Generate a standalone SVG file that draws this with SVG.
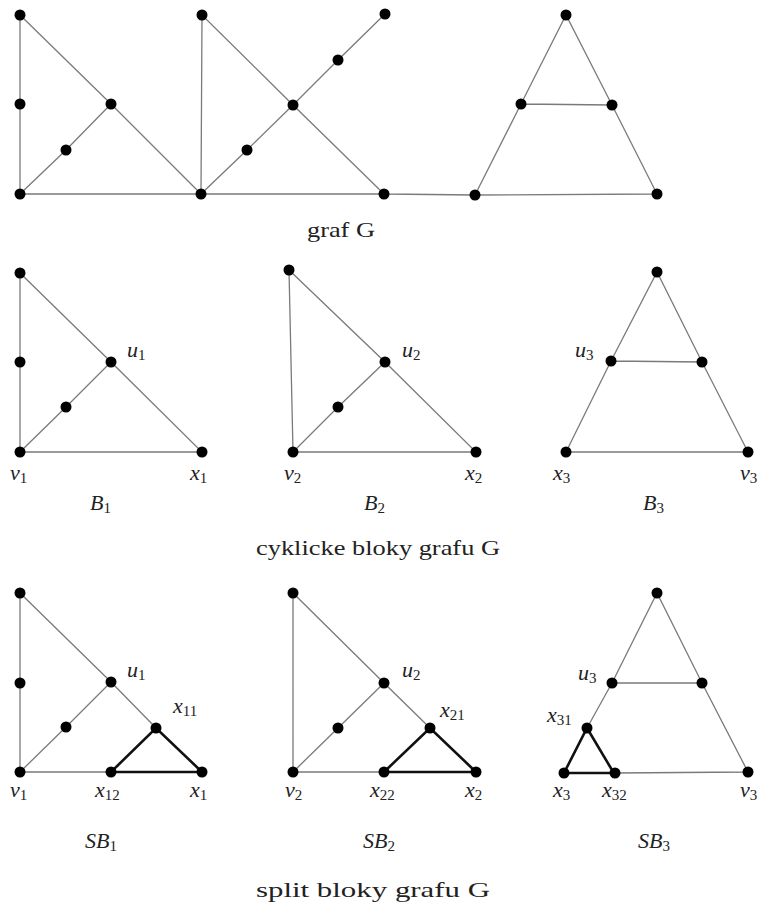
<svg xmlns="http://www.w3.org/2000/svg" width="759" height="907" viewBox="0 0 759 907">
<style>
.e{stroke:#7a7a7a;stroke-width:1.3;fill:none;stroke-linecap:round}
.t{stroke:#111;stroke-width:2.6;fill:none;stroke-linecap:round}
.n{fill:#000}
.m{font-family:"Liberation Serif","DejaVu Serif",serif;font-size:22px;font-style:italic;fill:#222}
.s{font-style:normal;font-size:15px}
.c{font-family:"Liberation Serif","DejaVu Serif",serif;font-size:22px;fill:#222}
</style>
<rect width="759" height="907" fill="#fff"/>
<g id="connectors">
<path class="e" d="M20,15 L20,104 L20,194 M20,15 L111,104 L201,194 M111,104 L66,150 L20,194 M20,194 L201,194 L384,194 L475,195 L657,194 M201,194 L202,15 L293,105 L384,194 M201,194 L247,150 L293,105 L338,60 L385,14 M475,195 L521,104 L566,15 L612,105 L657,194 M521,104 L612,105"/>
<path class="e" d="M20,273 L20,362 L20,452 L202,452 L111,362 L20,273 M111,362 L66,407 L20,452"/>
<path class="e" d="M289,270 L293,452 L476,452 L385,362 L289,270 M385,362 L338,407 L293,452"/>
<path class="e" d="M566,452 L611,361 L657,272 L702,362 L748,452 L566,452 M611,361 L702,362"/>
<path class="e" d="M20,593 L20,683 L20,772 L111,772 M20,593 L111,682 L156,728 M111,682 L66,727 L20,772"/>
<path class="t" d="M111,772 L156,728 L202,772 Z"/>
<path class="e" d="M293,593 L293,772 L384,772 M293,593 L384,683 L430,728 M384,683 L338,728 L293,772"/>
<path class="t" d="M384,772 L430,728 L476,772 Z"/>
<path class="e" d="M587,728 L612,683 L657,593 L702,683 L748,772 L615,773 M612,683 L702,683"/>
<path class="t" d="M564,773 L587,728 L612,770 M564,773 L615,773"/>
</g>
<g id="graf-G">
<circle class="n" cx="20" cy="15" r="5.5"/><circle class="n" cx="20" cy="104" r="5.5"/><circle class="n" cx="66" cy="150" r="5.5"/><circle class="n" cx="111" cy="104" r="5.5"/><circle class="n" cx="20" cy="194" r="5.5"/><circle class="n" cx="201" cy="194" r="5.5"/><circle class="n" cx="202" cy="15" r="5.5"/><circle class="n" cx="293" cy="105" r="5.5"/><circle class="n" cx="247" cy="150" r="5.5"/><circle class="n" cx="338" cy="60" r="5.5"/><circle class="n" cx="385" cy="14" r="5.5"/><circle class="n" cx="384" cy="194" r="5.5"/><circle class="n" cx="566" cy="15" r="5.5"/><circle class="n" cx="521" cy="104" r="5.5"/><circle class="n" cx="612" cy="105" r="5.5"/><circle class="n" cx="475" cy="195" r="5.5"/><circle class="n" cx="657" cy="194" r="5.5"/>
<text class="c" x="307" y="237" textLength="68" lengthAdjust="spacingAndGlyphs">graf G</text>
</g>
<g id="B1">
<circle class="n" cx="20" cy="273" r="5.5"/><circle class="n" cx="20" cy="362" r="5.5"/><circle class="n" cx="66" cy="407" r="5.5"/><circle class="n" cx="111" cy="362" r="5.5"/><circle class="n" cx="20" cy="452" r="5.5"/><circle class="n" cx="202" cy="452" r="5.5"/>
<text class="m" x="127" y="357">u<tspan class="s" dy="3">1</tspan></text>
<text class="m" x="10" y="480">v<tspan class="s" dy="3">1</tspan></text>
<text class="m" x="190" y="480">x<tspan class="s" dy="3">1</tspan></text>
<text class="m" x="90" y="510">B<tspan class="s" dy="3">1</tspan></text>
</g>
<g id="B2">
<circle class="n" cx="289" cy="270" r="5.5"/><circle class="n" cx="338" cy="407" r="5.5"/><circle class="n" cx="385" cy="362" r="5.5"/><circle class="n" cx="293" cy="452" r="5.5"/><circle class="n" cx="476" cy="452" r="5.5"/>
<text class="m" x="402" y="357">u<tspan class="s" dy="3">2</tspan></text>
<text class="m" x="284" y="480">v<tspan class="s" dy="3">2</tspan></text>
<text class="m" x="465" y="480">x<tspan class="s" dy="3">2</tspan></text>
<text class="m" x="364" y="510">B<tspan class="s" dy="3">2</tspan></text>
</g>
<g id="B3">
<circle class="n" cx="657" cy="272" r="5.5"/><circle class="n" cx="611" cy="361" r="5.5"/><circle class="n" cx="702" cy="362" r="5.5"/><circle class="n" cx="566" cy="452" r="5.5"/><circle class="n" cx="748" cy="452" r="5.5"/>
<text class="m" x="575" y="357">u<tspan class="s" dy="3">3</tspan></text>
<text class="m" x="553" y="480">x<tspan class="s" dy="3">3</tspan></text>
<text class="m" x="740" y="480">v<tspan class="s" dy="3">3</tspan></text>
<text class="m" x="643" y="510">B<tspan class="s" dy="3">3</tspan></text>
</g>
<text class="c" x="256" y="555" textLength="244" lengthAdjust="spacingAndGlyphs">cyklicke bloky grafu G</text>
<g id="SB1">
<circle class="n" cx="20" cy="593" r="5.5"/><circle class="n" cx="20" cy="683" r="5.5"/><circle class="n" cx="66" cy="727" r="5.5"/><circle class="n" cx="111" cy="682" r="5.5"/><circle class="n" cx="156" cy="728" r="5.5"/><circle class="n" cx="20" cy="772" r="5.5"/><circle class="n" cx="111" cy="772" r="5.5"/><circle class="n" cx="202" cy="772" r="5.5"/>
<text class="m" x="127" y="677">u<tspan class="s" dy="3">1</tspan></text>
<text class="m" x="173" y="713">x<tspan class="s" dy="3">11</tspan></text>
<text class="m" x="10" y="797">v<tspan class="s" dy="3">1</tspan></text>
<text class="m" x="95" y="797">x<tspan class="s" dy="3">12</tspan></text>
<text class="m" x="190" y="797">x<tspan class="s" dy="3">1</tspan></text>
<text class="m" x="85" y="848">SB<tspan class="s" dy="3">1</tspan></text>
</g>
<g id="SB2">
<circle class="n" cx="293" cy="593" r="5.5"/><circle class="n" cx="338" cy="728" r="5.5"/><circle class="n" cx="384" cy="683" r="5.5"/><circle class="n" cx="430" cy="728" r="5.5"/><circle class="n" cx="293" cy="772" r="5.5"/><circle class="n" cx="384" cy="772" r="5.5"/><circle class="n" cx="476" cy="772" r="5.5"/>
<text class="m" x="402" y="677">u<tspan class="s" dy="3">2</tspan></text>
<text class="m" x="440" y="717">x<tspan class="s" dy="3">21</tspan></text>
<text class="m" x="285" y="797">v<tspan class="s" dy="3">2</tspan></text>
<text class="m" x="370" y="797">x<tspan class="s" dy="3">22</tspan></text>
<text class="m" x="465" y="797">x<tspan class="s" dy="3">2</tspan></text>
<text class="m" x="363" y="848">SB<tspan class="s" dy="3">2</tspan></text>
</g>
<g id="SB3">
<circle class="n" cx="657" cy="593" r="5.5"/><circle class="n" cx="612" cy="683" r="5.5"/><circle class="n" cx="702" cy="683" r="5.5"/><circle class="n" cx="587" cy="728" r="5.5"/><circle class="n" cx="564" cy="773" r="5.5"/><circle class="n" cx="615" cy="773" r="5.5"/><circle class="n" cx="748" cy="772" r="5.5"/>
<text class="m" x="578" y="680">u<tspan class="s" dy="3">3</tspan></text>
<text class="m" x="547" y="722">x<tspan class="s" dy="3">31</tspan></text>
<text class="m" x="553" y="797">x<tspan class="s" dy="3">3</tspan></text>
<text class="m" x="602" y="797">x<tspan class="s" dy="3">32</tspan></text>
<text class="m" x="740" y="797">v<tspan class="s" dy="3">3</tspan></text>
<text class="m" x="638" y="848">SB<tspan class="s" dy="3">3</tspan></text>
</g>
<text class="c" x="256" y="897" textLength="234" lengthAdjust="spacingAndGlyphs">split bloky grafu G</text>
</svg>
